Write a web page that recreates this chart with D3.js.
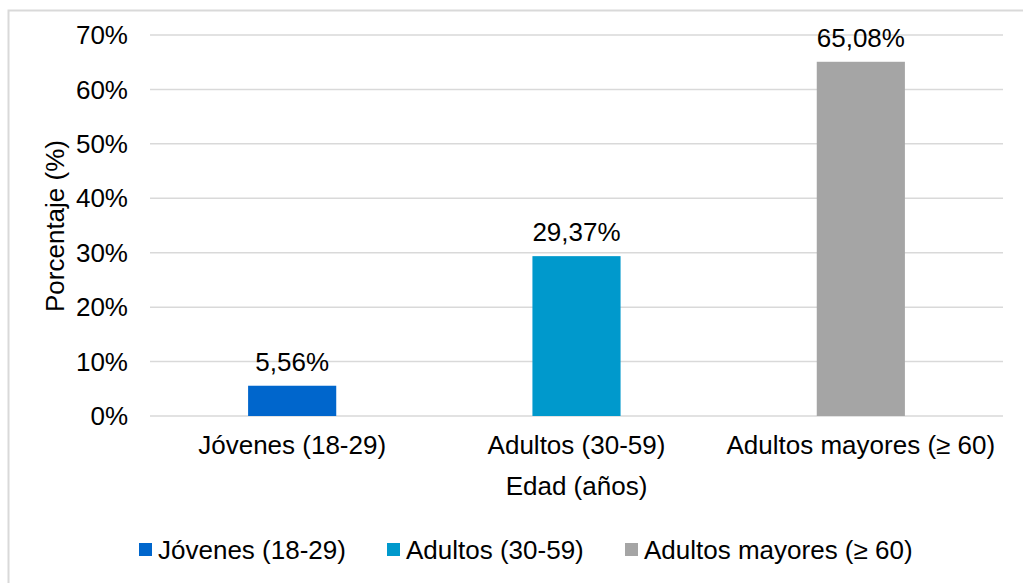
<!DOCTYPE html>
<html>
<head>
<meta charset="utf-8">
<script src="https://cdn.jsdelivr.net/npm/d3@7"></script>
<style>
  body { margin: 0; background: #fff; }
  text { font-family: "Liberation Sans", Arial, sans-serif; fill: #000; }
</style>
</head>
<body>
<div id="chart"></div>
<script>
var categories = ['Jóvenes (18-29)', 'Adultos (30-59)', 'Adultos mayores (≥ 60)'];
var values = [5.56, 29.37, 65.08];
var valueLabels = ['5,56%', '29,37%', '65,08%'];
var colors = ['#0066CC', '#0099CC', '#A5A5A5'];
var yTicks = [0, 10, 20, 30, 40, 50, 60, 70];

const width = 1023;
const height = 583;
const margin = { left: 150, right: 20, top: 35, bottom: 167 };
const fontSize = '26px';

const svg = d3.select('#chart').append('svg')
    .attr('width', width)
    .attr('height', height);

// outer frame
svg.append('rect')
    .attr('x', 8.5)
    .attr('y', 10.5)
    .attr('width', width + 10)
    .attr('height', height + 10)
    .attr('fill', 'white')
    .attr('stroke', '#D9D9D9')
    .attr('stroke-width', 2);

const x = d3.scaleBand()
    .domain(categories)
    .range([margin.left, width - margin.right])
    .paddingInner(0.69)
    .paddingOuter(0.345);

const y = d3.scaleLinear()
    .domain([0, 70])
    .range([height - margin.bottom, margin.top]);

// gridlines
svg.append('g')
    .selectAll('line')
    .data(yTicks)
    .enter().append('line')
    .attr('x1', margin.left)
    .attr('x2', width - margin.right)
    .attr('y1', d => y(d))
    .attr('y2', d => y(d))
    .attr('stroke', '#D9D9D9')
    .attr('stroke-width', 1.5);

// y tick labels
svg.append('g')
    .selectAll('text')
    .data(yTicks)
    .enter().append('text')
    .attr('x', 128)
    .attr('y', d => y(d))
    .attr('dy', '0.35em')
    .attr('text-anchor', 'end')
    .style('font-size', fontSize)
    .text(d => d + '%');

// bars
svg.append('g')
    .selectAll('rect')
    .data(values)
    .enter().append('rect')
    .attr('x', (d, i) => x(categories[i]))
    .attr('y', d => y(d))
    .attr('width', x.bandwidth())
    .attr('height', d => y(0) - y(d))
    .attr('fill', (d, i) => colors[i]);

// value labels
svg.append('g')
    .selectAll('text')
    .data(values)
    .enter().append('text')
    .attr('x', (d, i) => x(categories[i]) + x.bandwidth() / 2)
    .attr('y', d => y(d) - 15)
    .attr('text-anchor', 'middle')
    .style('font-size', fontSize)
    .text((d, i) => valueLabels[i]);

// x category labels
svg.append('g')
    .selectAll('text')
    .data(categories)
    .enter().append('text')
    .attr('x', d => x(d) + x.bandwidth() / 2)
    .attr('y', 454)
    .attr('text-anchor', 'middle')
    .style('font-size', fontSize)
    .text(d => d);

// axis titles
svg.append('text')
    .attr('x', (margin.left + width - margin.right) / 2)
    .attr('y', 495)
    .attr('text-anchor', 'middle')
    .style('font-size', fontSize)
    .text('Edad (años)');

svg.append('text')
    .attr('transform', 'translate(64, 226) rotate(-90)')
    .attr('text-anchor', 'middle')
    .style('font-size', fontSize)
    .text('Porcentaje (%)');

// legend
var legendX = [139, 387, 625];
const legend = svg.append('g')
    .selectAll('g')
    .data(categories)
    .enter().append('g')
    .attr('transform', (d, i) => `translate(${legendX[i]}, 550)`);

legend.append('rect')
    .attr('x', 0)
    .attr('y', -7)
    .attr('width', 13)
    .attr('height', 13)
    .attr('fill', (d, i) => colors[i]);

legend.append('text')
    .attr('x', 19)
    .attr('y', 0)
    .attr('dy', '0.35em')
    .style('font-size', fontSize)
    .text(d => d);
</script>
</body>
</html>
